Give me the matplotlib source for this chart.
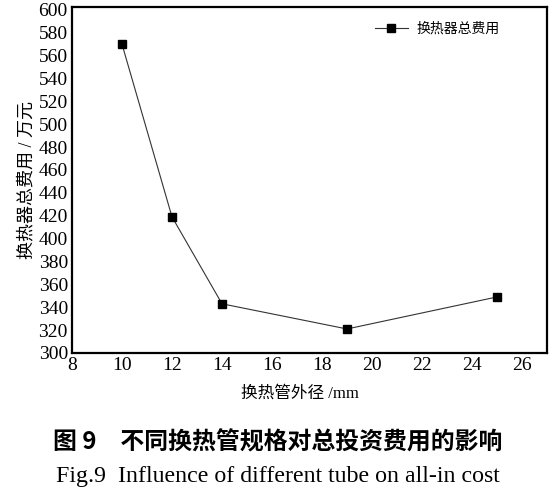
import matplotlib
matplotlib.use("Agg")
import matplotlib.pyplot as plt

plt.rcParams['font.family'] = ['Liberation Serif', 'Noto Sans CJK SC']

# 换热管外径 / mm 与总费用 / 万元
waijing = [10, 12, 14, 19, 25]
feiyong = [570, 419, 343, 321, 349]
y_ticks = list(range(300, 601, 20))
x_ticks = list(range(8, 27, 2))

fig = plt.figure(figsize=(5.52, 4.95), dpi=100)
ax = fig.add_axes([0.1304, 0.2869, 0.8606, 0.699])

ax.plot(waijing, feiyong, color='#333333', lw=0.8, marker='s', markersize=6,
        markerfacecolor='black', markeredgecolor='black', label='换热器总费用')

ax.set_xlim(8, 27)
ax.set_ylim(300, 602.5)
ax.set_xticks(x_ticks)
ax.set_yticks(y_ticks)
ax.tick_params(length=0, labelsize=14, pad=3)
for s in ax.spines.values():
    s.set_linewidth(1.6)

ax.set_xlabel('换热管外径 /mm', fontsize=12, labelpad=8)
ax.xaxis.label.set_x(0.48)
ax.set_ylabel('换热器总费用 / 万元', fontsize=13, labelpad=2)

ax.legend(loc='upper right', frameon=False, fontsize=10, handlelength=2.4,
          handletextpad=0.6, borderaxespad=0.8, bbox_to_anchor=(0.935, 1.005))

fig.text(0.503, 0.107, '图 9　不同换热管规格对总投资费用的影响', ha='center', va='center',
         fontsize=17.2, fontweight='bold', family=['Noto Sans CJK SC'])
fig.text(0.503, 0.038, 'Fig.9  Influence of different tube on all-in cost', ha='center',
         va='center', fontsize=17.2)

fig.savefig('out.png', dpi=100)
